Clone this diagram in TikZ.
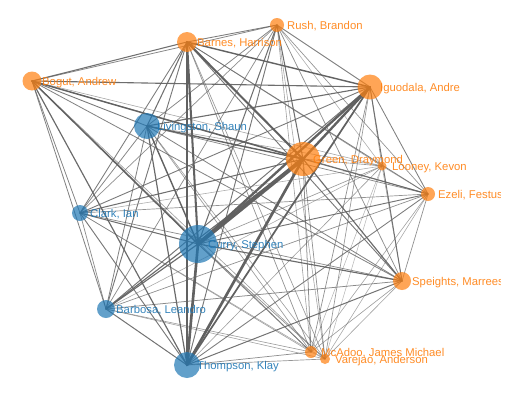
\documentclass[tikz,border=0pt]{standalone}
\usepackage{fontspec}
\setmainfont{Liberation Sans}
\definecolor{gsworange}{HTML}{FF7F0E}
\definecolor{gswblue}{HTML}{1F77B4}
\pgfdeclarelayer{edges}
\pgfdeclarelayer{labels}
\pgfsetlayers{edges,labels,main}
\tikzset{
  pcircle/.style={circle, inner sep=0pt, draw=none, fill opacity=0.7},
  plabel/.style={anchor=base west, inner sep=0pt, font=\fontsize{11.3}{13}\selectfont, text opacity=0.9},
  edge/.style={draw=black!62, line cap=round}
}
\newcommand{\player}[6]{%
  \node[pcircle, fill=#5, minimum size=#4*2pt] (#1) at (#2,#3) {};
  \begin{pgfonlayer}{labels}
    \begin{scope}
      \clip (0,0) rectangle (500,415);
      \node[plabel, text=#5] (#1-label) at ([xshift=10pt, yshift=-4pt]#1.center) {#6};
    \end{scope}
  \end{pgfonlayer}}
\begin{document}
\begin{tikzpicture}[x=1pt, y=-1pt]
\useasboundingbox (0,0) rectangle (529,415);
\player{barnes}{187}{42}{10}{gsworange}{Barnes, Harrison}
\player{rush}{277}{25}{7}{gsworange}{Rush, Brandon}
\player{bogut}{32}{81}{9.5}{gsworange}{Bogut, Andrew}
\player{livingston}{147}{126}{13}{gswblue}{Livingston, Shaun}
\player{iguodala}{370}{87}{12.5}{gsworange}{Iguodala, Andre}
\player{green}{303}{159}{17}{gsworange}{Green, Draymond}
\player{looney}{382}{166}{4.5}{gsworange}{Looney, Kevon}
\player{ezeli}{428}{194}{7}{gsworange}{Ezeli, Festus}
\player{clark}{80}{213}{8}{gswblue}{Clark, Ian}
\player{curry}{198}{244}{19}{gswblue}{Curry, Stephen}
\player{barbosa}{106}{309}{9}{gswblue}{Barbosa, Leandro}
\player{thompson}{187}{365}{13}{gswblue}{Thompson, Klay}
\player{speights}{402}{281}{9}{gsworange}{Speights, Marreese}
\player{mcadoo}{311}{352}{6}{gsworange}{McAdoo, James Michael}
\player{varejao}{325}{359}{5}{gsworange}{Varejao, Anderson}
\def\plist{curry/1.0, green/1.0, thompson/0.85, iguodala/0.8, barnes/0.75, livingston/0.6, bogut/0.6, barbosa/0.5, clark/0.45, speights/0.5, rush/0.45, ezeli/0.4, mcadoo/0.25, varejao/0.2, looney/0.15}
\begin{pgfonlayer}{edges}
\foreach \a/\wa [count=\i] in \plist {
  \foreach \b/\wb [count=\j] in \plist {
    \ifnum\j>\i
      \pgfmathsetmacro\p{\wa*\wb}
      \pgfmathsetmacro\lw{0.5+1.0*\p+2.5*\p*\p*\p*\p}
      \pgfmathsetmacro\op{min(1,0.3+0.9*sqrt(\p))}
      \draw[edge, line width=\lw pt, draw opacity=\op] (\a.center) -- (\b.center);
    \fi
  }
}
\end{pgfonlayer}
\end{tikzpicture}
\end{document}
